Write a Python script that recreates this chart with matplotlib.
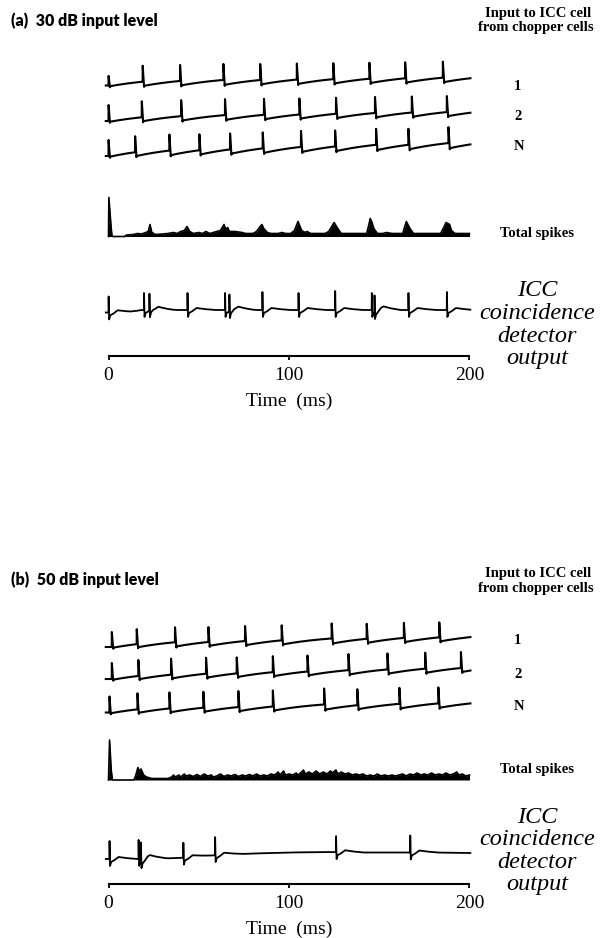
import numpy as np
import matplotlib
matplotlib.use("Agg")
import matplotlib.pyplot as plt

# ---------------------------------------------------------------------------
# Data (times in ms)
# ---------------------------------------------------------------------------
# (a) 30 dB: spike times of three chopper-cell inputs
a_chop_1 = [0.0, 18.9, 39.6, 63.6, 84.0, 104.3, 124.5, 144.5, 164.3, 185.2]
a_chop_2 = [0.0, 18.4, 40.2, 64.5, 86.1, 105.7, 126.0, 147.6, 168.0, 187.4]
a_chop_N = [0.0, 14.7, 33.7, 50.3, 67.3, 85.4, 106.6, 125.5, 148.2, 166.1, 188.3]

# (a) summed spike count profile (time, count)
a_total_t = [0, 0.2, 1.5, 2, 9, 10, 14, 16, 18, 20, 22, 23, 24, 26, 30, 33, 36, 38,
             40, 42, 43.5, 45, 47, 50, 52, 54, 56, 58, 60, 62, 64, 65, 66, 67, 70,
             74, 76, 80, 82, 84, 85, 86, 88, 90, 94, 96, 98, 101, 103, 105, 107,
             109, 110, 112, 120, 122, 125, 127, 129, 143, 144, 145, 146, 147, 149,
             152, 154, 157, 163, 165, 167, 169, 184, 186, 187, 189, 190, 192, 200]
a_total_n = [0, 39, 8, 0, 0, 1.5, 2, 3, 2.5, 3.5, 5, 12, 4, 2, 2.5, 3, 4, 3,
             5, 6, 10, 5, 3, 4, 3, 5, 3, 4, 5, 6, 12, 7, 9, 5, 5,
             4, 3, 3, 5, 10, 12, 8, 4, 3, 3, 4, 3, 3, 6, 15, 6,
             4, 5, 3, 3, 5, 14, 8, 3, 3, 10, 18, 14, 8, 3,
             3, 4, 3, 3, 15, 8, 3, 3, 10, 14, 12, 6, 3, 3]

# (a) coincidence detector output spikes and its slow baseline
a_icc_spikes = [0.0, 19.6, 22.6, 43.7, 64.5, 66.9, 85.2, 105.2, 125.5, 145.8,
                147.3, 166.1, 187.4]
a_icc_heights = [16, 17, 17, 17, 17, 17, 18, 17, 19, 17, 17, 17, 18]
a_icc_base_t = [0, 12, 18, 200]
a_icc_base_v = [-2.5, -2.0, 0.0, 0.0]

# (b) 50 dB: spike times of three chopper-cell inputs
b_chop_1 = [1.8, 15.6, 36.8, 55.3, 75.6, 95.9, 123.6, 143.0, 163.6, 183.2]
b_chop_2 = [1.8, 16.5, 34.6, 54.0, 71.0, 91.0, 110.2, 132.9, 154.5, 175.4, 195.2]
b_chop_N = [0.5, 16.0, 33.7, 52.5, 71.9, 91.0, 119.4, 137.8, 161.1, 182.7]

# (b) summed spike count profile (time, count)
b_total_t = [0, 0.6, 1.5, 2.2, 14, 15, 16.3, 17, 18, 19.5, 21, 24, 33, 35, 36, 37,
             39, 40, 42, 43, 45, 47, 49, 51, 53, 55, 57, 58, 60, 62, 64, 66, 68,
             70, 72, 74, 76, 78, 80, 82, 84, 86, 88, 90, 92, 94, 95, 97, 98, 100,
             102, 104, 105, 107, 108, 109, 111, 113, 115, 117, 119, 121, 123, 124,
             126, 127, 129, 131, 133, 135, 137, 139, 141, 143, 145, 147, 149, 151,
             153, 155, 157, 159, 161, 163, 165, 167, 169, 171, 173, 175, 177, 179,
             181, 183, 185, 187, 189, 191, 193, 194, 196, 198, 200]
b_total_n = [0, 40, 10, 0, 0, 4, 12.5, 9, 11, 5, 3, 1.5, 1.5, 3, 5, 3,
             5, 3, 6, 4, 5, 3.5, 5.5, 3.5, 6, 4, 5, 3, 4, 6, 3.5, 5, 4,
             5.5, 3.5, 5, 4, 5.5, 4, 6, 4, 5, 4, 6, 5, 8, 5, 9, 5, 6,
             5, 7, 5, 8, 10, 6, 8, 6, 9, 6, 8, 6, 9, 7,
             10, 6, 8, 6, 7, 5, 6, 5, 6, 4, 5, 4, 6, 4,
             5, 4, 5, 4, 5, 6, 4, 6, 5, 7, 5, 6, 5, 7,
             5, 6, 5, 7, 5, 6, 8, 5, 6, 4, 5]

# (b) coincidence detector output spikes and its slow baseline
b_icc_spikes = [0.5, 16.6, 17.9, 41.4, 59.0, 126.0, 167.1]
b_icc_heights = [18, 19, 19, 15, 18, 16, 17]
b_icc_base_t = [0, 15, 30, 45, 60, 80, 100, 120, 140, 160, 180, 200]
b_icc_base_v = [0, 0, 0.5, 1.5, 4, 5.5, 6.5, 7, 6.5, 6.5, 6.5, 6]

tick_values = [0, 100, 200]

# ---------------------------------------------------------------------------
# Trace builders
# ---------------------------------------------------------------------------
def chopper_trace(spikes, drift, ramp, height, onset=1.0):
    """Sawtooth membrane trace: slow recharge, vertical spike, fast reset."""
    spikes = list(spikes)

    def trend(x):
        return drift * np.asarray(x) / 200.0

    def recharge(dt):
        return ramp * (1 - np.exp(-dt / 30.0)) / (1 - np.exp(-20.0 / 30.0))

    ts, vs = [-1.5], [1.0]
    for i, s in enumerate(spikes):
        if i == 0:
            ts.append(s)
            vs.append(1.0)
        else:
            p = spikes[i - 1]
            seg = np.linspace(p + 0.8, s, max(int((s - p) / 0.5), 3))
            ts.extend(seg)
            vs.extend(trend(p) + recharge(seg - p))
        h = height * (onset if i == 0 else 1.0)
        v_pre = vs[-1]
        ts += [s + 0.05, s + 0.8]
        vs += [v_pre + h, float(trend(s)) - 0.8]
    p = spikes[-1]
    seg = np.linspace(p + 0.8, 200.5, max(int((200.5 - p) / 0.5), 3))
    ts.extend(seg)
    vs.extend(trend(p) + recharge(seg - p))
    return np.array(ts), np.array(vs)


def icc_trace(spikes, heights, base_t, base_v, depth=7.0):
    t = np.arange(-1.5, 200.5, 0.02)
    v = np.interp(t, base_t, base_v)
    k_t = [0, 0.08, 0.35, 0.9, 2.5, 5.0, 9.0, 15.0]
    for s, h in zip(spikes, heights):
        k_v = [0, h, -depth, -3.0, -1.5, 2.0, 1.0, 0]
        dt = t - s
        m = (dt >= 0) & (dt <= 15)
        v[m] += np.interp(dt[m], k_t, k_v)
    return t, v


# ---------------------------------------------------------------------------
# Figure
# ---------------------------------------------------------------------------
W, H = 601, 938
fig = plt.figure(figsize=(W / 100, H / 100), dpi=100)
fig.patch.set_facecolor("white")

SERIF = "Liberation Serif"
PX_PER_MS = 1.805
X0 = 108.5


def fx(px):
    return px / W


def fy(py):
    return 1 - py / H


def panel_axes(top_px, axis_px):
    left = X0 - 3 * PX_PER_MS
    ax = fig.add_axes([fx(left), fy(axis_px), 206 * PX_PER_MS / W,
                       (axis_px - top_px) / H])
    ax.set_xlim(-3, 203)
    ax.set_ylim(axis_px, top_px)
    for side in ("top", "right", "left"):
        ax.spines[side].set_visible(False)
    ax.spines["bottom"].set_bounds(0, 200)
    ax.spines["bottom"].set_linewidth(1.5)
    ax.set_yticks([])
    ax.set_xticks(tick_values)
    ax.set_xticklabels([str(v) for v in tick_values], fontfamily=SERIF,
                       fontsize=14)
    ax.tick_params(axis="x", direction="out", length=3, width=1.3, pad=5)
    ax.set_xlabel("Time  (ms)", fontfamily=SERIF, fontsize=14, labelpad=6)
    ax.patch.set_alpha(0)
    return ax


def draw_panel(ax, chops, chop_rows, chop_params, total_t, total_n, total_row,
               icc, icc_row):
    for spikes, row, prm in zip(chops, chop_rows, chop_params):
        t, v = chopper_trace(spikes, *prm)
        ax.plot(t, row - v, color="black", lw=1.5, solid_joinstyle="round")
    tt = np.asarray(total_t, float)
    nn = np.asarray(total_n, float)
    ax.fill_between(tt, total_row, total_row - nn, color="black", lw=0)
    ax.plot(tt, total_row - nn, color="black", lw=1.2)
    t, v = icc
    ax.plot(t, icc_row - v, color="black", lw=1.3)


# ---- panel (a)
ax_a = panel_axes(40, 356)
draw_panel(
    ax_a,
    [a_chop_1, a_chop_2, a_chop_N],
    [86.5, 122.0, 157.0],
    [(4.5, 5.0, 16.0, 0.6), (6.0, 5.0, 16.0, 1.0), (9.0, 6.0, 16.0, 1.0)],
    a_total_t, a_total_n, 236.5,
    icc_trace(a_icc_spikes, a_icc_heights, a_icc_base_t, a_icc_base_v),
    310.0,
)

# ---- panel (b)
ax_b = panel_axes(600, 884)
draw_panel(
    ax_b,
    [b_chop_1, b_chop_2, b_chop_N],
    [648.0, 680.0, 713.5],
    [(7.0, 5.0, 15.0, 1.0), (8.0, 5.0, 16.0, 1.0), (6.0, 5.0, 16.0, 1.0)],
    b_total_t, b_total_n, 780.0,
    icc_trace(b_icc_spikes, b_icc_heights, b_icc_base_t, b_icc_base_v),
    859.0,
)

# ---------------------------------------------------------------------------
# Labels
# ---------------------------------------------------------------------------
HEAD = dict(fontfamily="Lato", fontweight="heavy", fontsize=11.5, va="center",
            ha="left")
SIDE = dict(fontfamily=SERIF, fontweight="bold", fontsize=10.5, va="center")
ITAL = dict(fontfamily=SERIF, fontstyle="italic", fontsize=17.5, va="center",
            ha="center")


def side_labels(head_y, head_text, top_y, rows_y, total_y, icc_y):
    fig.text(fx(11), fy(head_y), head_text, **HEAD)
    fig.text(fx(538), fy(top_y), "Input to ICC cell", ha="center", **SIDE)
    fig.text(fx(536), fy(top_y + 14), "from chopper cells", ha="center", **SIDE)
    for name, y in zip(["1", "2", "N"], rows_y):
        fig.text(fx(514), fy(y), name, ha="left", **SIDE)
    fig.text(fx(500), fy(total_y), "Total spikes", ha="left", **SIDE)
    for k, word in enumerate(["ICC", "coincidence", "detector", "output"]):
        fig.text(fx(537), fy(icc_y + 22.5 * k), word, **ITAL)


side_labels(21, "(a)  30 dB input level", 13, [86, 116, 147], 233, 291)
side_labels(580, "(b)  50 dB input level", 574, [640, 674, 707], 769, 817)

fig.savefig("out.png", dpi=100, facecolor="white")
